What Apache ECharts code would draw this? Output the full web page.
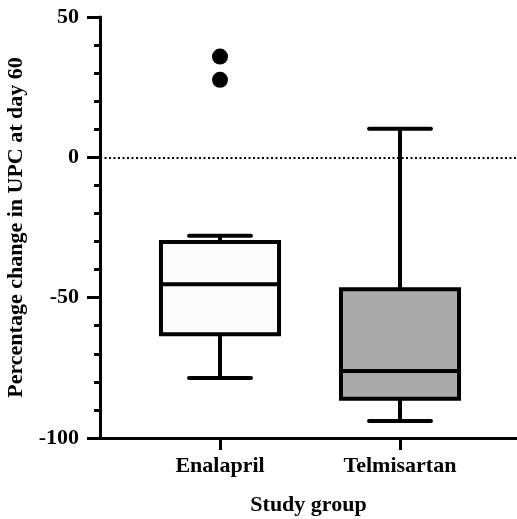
<!DOCTYPE html>
<html>
<head>
<meta charset="utf-8">
<script src="https://cdn.jsdelivr.net/npm/echarts@6/dist/echarts.min.js"></script>
<style>
  html, body { margin: 0; padding: 0; background: #ffffff; }
  #chart { width: 517px; height: 519px; }
</style>
</head>
<body>
<div id="chart"></div>
<script>
// Study groups and box summaries: [min, Q1, median, Q3, max]
const categories = ['Enalapril', 'Telmisartan'];
const boxStats = [
  [-78.6, -63.0, -45.2, -30.2, -27.9],
  [-93.9, -86.0, -76.1, -47.0, 10.2]
];
const boxFills = ['#fbfbfb', '#a9a9a9'];
// Outlying values: [group index, value]
const outliers = [
  [0, 35.9],
  [0, 27.6]
];
const yTicks = [-100, -50, 0, 50];

const FONT = '"Liberation Serif", "Times New Roman", serif';

const chart = echarts.init(document.getElementById('chart'), null, { renderer: 'canvas' });

function renderBox(params, api) {
  const i = api.value(0);
  const lo = api.coord([i, api.value(1)]);
  const q1 = api.coord([i, api.value(2)]);
  const med = api.coord([i, api.value(3)]);
  const q3 = api.coord([i, api.value(4)]);
  const hi = api.coord([i, api.value(5)]);
  const boxW = api.size([0.656, 0])[0];
  const capW = api.size([0.344, 0])[0];
  const cx = med[0];
  const stroke = { stroke: '#000', lineWidth: 4, lineCap: 'round' };
  const butt = Object.assign({}, stroke, { lineCap: 'butt' });
  return {
    type: 'group',
    children: [
      { type: 'line', shape: { x1: cx, y1: hi[1], x2: cx, y2: q3[1] }, style: butt },
      { type: 'line', shape: { x1: cx, y1: q1[1], x2: cx, y2: lo[1] }, style: butt },
      { type: 'line', shape: { x1: cx - capW / 2, y1: hi[1], x2: cx + capW / 2, y2: hi[1] }, style: stroke },
      { type: 'line', shape: { x1: cx - capW / 2, y1: lo[1], x2: cx + capW / 2, y2: lo[1] }, style: stroke },
      { type: 'rect', shape: { x: cx - boxW / 2, y: q3[1], width: boxW, height: q1[1] - q3[1] },
        style: { fill: boxFills[i], stroke: '#000', lineWidth: 4 } },
      { type: 'line', shape: { x1: cx - boxW / 2, y1: med[1], x2: cx + boxW / 2, y2: med[1] }, style: butt }
    ]
  };
}

const option = {
  backgroundColor: '#ffffff',
  animation: false,
  grid: { left: 100, right: 0, top: 17, bottom: 81, containLabel: false, outerBoundsMode: 'none' },
  xAxis: {
    type: 'value',
    min: -0.6667,
    max: 1.65,
    splitLine: { show: false },
    axisLine: { show: true, onZero: false, lineStyle: { color: '#000', width: 3 } },
    axisTick: {
      show: true, length: 12, customValues: [0, 1],
      lineStyle: { color: '#000', width: 3 }
    },
    axisLabel: {
      show: true, customValues: [0, 1], margin: 17,
      formatter: v => categories[Math.round(v)] || '',
      color: '#000', fontFamily: FONT, fontWeight: 'bold', fontSize: 22
    },
    name: 'Study group',
    nameLocation: 'middle',
    nameGap: 56,
    nameTextStyle: { color: '#000', fontFamily: FONT, fontWeight: 'bold', fontSize: 22 }
  },
  yAxis: {
    type: 'value',
    min: yTicks[0],
    max: yTicks[yTicks.length - 1],
    interval: 50,
    splitLine: { show: false },
    axisLine: { show: true, onZero: false, lineStyle: { color: '#000', width: 3 } },
    axisTick: { show: true, length: 13, lineStyle: { color: '#000', width: 3 } },
    minorTick: { show: true, splitNumber: 5, length: 6, lineStyle: { color: '#000', width: 3 } },
    axisLabel: {
      margin: 21, color: '#000', fontFamily: FONT, fontWeight: 'bold', fontSize: 22
    },
    name: 'Percentage change in UPC at day 60',
    nameLocation: 'middle',
    nameGap: 71,
    nameTextStyle: { color: '#000', fontFamily: FONT, fontWeight: 'bold', fontSize: 22 }
  },
  series: [
    {
      type: 'custom',
      renderItem: renderBox,
      data: boxStats.map((s, i) => [i].concat(s)),
      encode: { x: 0, y: [1, 2, 3, 4, 5] },
      z: 3,
      markLine: {
        silent: true,
        symbol: ['none', 'none'],
        label: { show: false },
        lineStyle: { color: '#000', width: 2, type: [2, 2.5], opacity: 1 },
        data: [{ yAxis: 0 }]
      }
    },
    {
      type: 'scatter',
      data: outliers,
      symbol: 'circle',
      symbolSize: 16,
      itemStyle: { color: '#000', opacity: 1 },
      z: 4
    }
  ]
};

chart.setOption(option);
</script>
</body>
</html>
